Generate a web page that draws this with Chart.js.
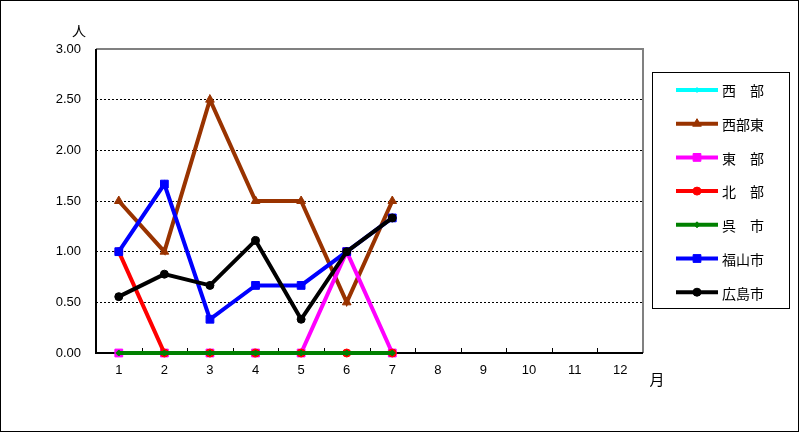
<!DOCTYPE html>
<html>

<head>
  <meta charset="utf-8">
  <title>月別 人数</title>
  <script src="https://cdn.jsdelivr.net/npm/chart.js"></script>
  <style>
    html, body { margin: 0; padding: 0; background: #fff; }
    canvas { display: block; }
  </style>
</head>

<body>
  <canvas id="monthChart" width="799" height="432"></canvas>
  <script>
    // months on the x axis
    var months = ['1', '2', '3', '4', '5', '6', '7', '8', '9', '10', '11', '12'];
    var yTicks = [0, 0.5, 1, 1.5, 2, 2.5, 3];

    // series values (only Jan-Jul reported)
    var seibu = [0, 0, 0, 0, 0, 0, 0, null, null, null, null, null];
    var seibuHigashi = [1.5, 1.0, 2.5, 1.5, 1.5, 0.5, 1.5, null, null, null, null, null];
    var tobu = [0, 0, 0, 0, 0, 1.0, 0, null, null, null, null, null];
    var hokubu = [1.0, 0, 0, 0, 0, 0, 0, null, null, null, null, null];
    var kureShi = [0, 0, 0, 0, 0, 0, 0, null, null, null, null, null];
    var fukuyamaShi = [1.0, 1.667, 0.333, 0.667, 0.667, 1.0, 1.333, null, null, null, null, null];
    var hiroshimaShi = [0.556, 0.778, 0.667, 1.111, 0.333, 1.0, 1.333, null, null, null, null, null];

    var seriesNames = ['西　部', '西部東', '東　部', '北　部', '呉　市', '福山市', '広島市'];
    var seriesData = [seibu, seibuHigashi, tobu, hokubu, kureShi, fukuyamaShi, hiroshimaShi];
    var seriesColors = ['#00ffff', '#993300', '#ff00ff', '#ff0000', '#008000', '#0000ff', '#000000'];
    var seriesPoints = ['rectRot', 'triangle', 'rect', 'circle', 'rectRot', 'rect', 'circle'];
    var seriesRadius = [2.5, 5, 5.5, 4, 3, 5.5, 4];

    var datasets = seriesNames.map(function (name, i) {
      return {
        label: name,
        data: seriesData[i],
        borderColor: seriesColors[i],
        backgroundColor: seriesColors[i],
        borderWidth: 4,
        pointStyle: seriesPoints[i],
        pointRadius: seriesRadius[i],
        pointBorderWidth: 1,
        pointBorderColor: seriesColors[i],
        tension: 0,
        spanGaps: false,
        clip: false,
        order: seriesNames.length - i // later series on top, like the original
      };
    });

    // frame, axes, unit labels and legend drawn on the canvas
    var decorations = {
      id: 'decorations',
      beforeDraw: function (chart) {
        var ctx = chart.ctx;
        ctx.save();
        ctx.fillStyle = '#fff';
        ctx.fillRect(0, 0, chart.width, chart.height);
        ctx.restore();
      },
      beforeDatasetsDraw: function (chart) {
        var ctx = chart.ctx;
        var a = chart.chartArea;
        ctx.save();
        // grey top / right border of the plot area
        ctx.strokeStyle = '#808080';
        ctx.lineWidth = 2;
        ctx.beginPath();
        ctx.moveTo(a.left, a.top);
        ctx.lineTo(a.right, a.top);
        ctx.lineTo(a.right, a.bottom);
        ctx.stroke();
        // black axes
        ctx.strokeStyle = '#000';
        ctx.lineWidth = 2;
        ctx.beginPath();
        ctx.moveTo(a.left, a.top);
        ctx.lineTo(a.left, a.bottom);
        ctx.lineTo(a.right, a.bottom);
        ctx.stroke();
        // inner tick marks between months
        ctx.lineWidth = 1;
        ctx.beginPath();
        var step = (a.right - a.left) / months.length;
        for (var i = 1; i < months.length; i++) {
          var tx = Math.round(a.left + step * i) + 0.5;
          ctx.moveTo(tx, a.bottom);
          ctx.lineTo(tx, a.bottom - 5);
        }
        ctx.stroke();
        ctx.restore();
      },
      afterDatasetsDraw: function (chart) {
        var ctx = chart.ctx;
        ctx.save();
        // outer frame
        ctx.strokeStyle = '#000';
        ctx.lineWidth = 1;
        ctx.strokeRect(0.5, 0.5, chart.width - 1, chart.height - 1);
        // unit labels
        ctx.fillStyle = '#000';
        ctx.font = '14px "Noto Sans CJK JP"';
        ctx.textBaseline = 'middle';
        ctx.textAlign = 'center';
        ctx.fillText('人', 79, 31);
        ctx.font = '15px "Noto Sans CJK JP"';
        ctx.fillText('月', 657, 379);

        // legend box
        var lx = 652, ly = 72, lw = 137, lh = 236;
        ctx.lineWidth = 1;
        ctx.strokeStyle = '#000';
        ctx.strokeRect(lx + 0.5, ly + 0.5, lw, lh);
        ctx.font = '14px "Noto Sans CJK JP"';
        ctx.textAlign = 'left';
        for (var k = 0; k < seriesNames.length; k++) {
          var ry = 90 + k * 33.7;
          ctx.strokeStyle = seriesColors[k];
          ctx.fillStyle = seriesColors[k];
          ctx.lineWidth = 4;
          ctx.beginPath();
          ctx.moveTo(676, ry);
          ctx.lineTo(718, ry);
          ctx.stroke();
          ctx.lineWidth = 1;
          Chart.helpers.drawPoint(ctx, {
            pointStyle: seriesPoints[k],
            radius: seriesRadius[k],
            borderWidth: 1,
            rotation: 0
          }, 697, ry);
          ctx.fillStyle = '#000';
          ctx.fillText(seriesNames[k], 722, ry + 1);
        }
        ctx.restore();
      }
    };

    var canvas = document.getElementById('monthChart');
    var chart = new Chart(canvas, {
      type: 'line',
      data: { labels: months, datasets: datasets },
      plugins: [decorations],
      options: {
        responsive: false,
        animation: false,
        layout: { padding: { left: 36, right: 156, top: 49, bottom: 0 } },
        plugins: {
          legend: { display: false },
          tooltip: { enabled: false }
        },
        scales: {
          x: {
            offset: true,
            grid: { display: false, drawTicks: false },
            border: { display: false },
            ticks: {
              color: '#000',
              font: { family: '"Liberation Sans", Arial', size: 13 },
              padding: 10,
              maxRotation: 0
            },
            afterFit: function (s) { s.height = 79; }
          },
          y: {
            min: 0,
            max: 3,
            afterBuildTicks: function (s) {
              s.ticks = yTicks.map(function (v) { return { value: v }; });
            },
            grid: {
              drawTicks: false,
              color: function (c) {
                var v = c.tick ? c.tick.value : 0;
                return (v === 0 || v === 3) ? 'rgba(0,0,0,0)' : '#000';
              },
              lineWidth: 1
            },
            border: { display: false, dash: [2, 2] },
            ticks: {
              color: '#000',
              font: { family: '"Liberation Sans", Arial', size: 13 },
              padding: 15,
              callback: function (v) { return Number(v).toFixed(2); }
            },
            afterFit: function (s) { s.width = 60; }
          }
        }
      }
    });
  </script>
</body>

</html>
